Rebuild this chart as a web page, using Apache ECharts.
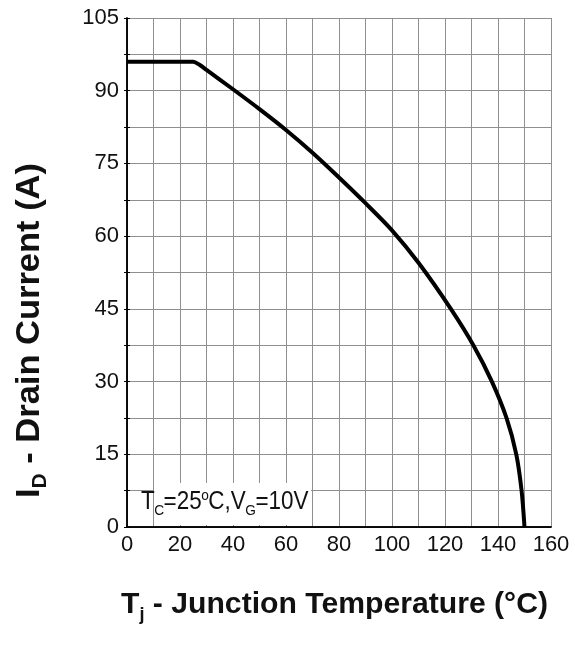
<!DOCTYPE html>
<html>
<head>
<meta charset="utf-8">
<style>
  html, body { margin: 0; padding: 0; background: #fff; }
  #chart { width: 575px; height: 645px; }
</style>
<script src="https://cdn.jsdelivr.net/npm/echarts@6/dist/echarts.min.js"></script>
</head>
<body>
<div id="chart"></div>
<script>
// Junction temperature (°C)
const temps = [0, 25, 27.5, 30, 40, 50, 60, 70, 80, 90, 100, 110, 122.2, 130.7, 137.7, 143.2, 146.9, 148.9, 150];
// Drain current (A)
const current = [96, 96, 95.3, 94.3, 90.3, 86.2, 81.9, 77.2, 72.1, 66.8, 61.2, 54.5, 45, 37.5, 30, 22.5, 15, 7.5, 0];
const xTickLabels = [0, 20, 40, 60, 80, 100, 120, 140, 160];
const yTickLabels = [0, 15, 30, 45, 60, 75, 90, 105];

const fontFam = "'Liberation Sans', Arial, sans-serif";
const textColor = '#111';

// measure text widths to place sub/superscripts
const mctx = document.createElement('canvas').getContext('2d');
function measure(text, size, weight) {
  mctx.font = (weight || 'normal') + ' ' + size + 'px ' + fontFam;
  return mctx.measureText(text).width;
}
// pieces: {text, size, dy (baseline offset, +down)}
function runs(pieces, weight, kern) {
  let x = 0;
  const children = [];
  pieces.forEach(p => {
    children.push({
      type: 'text', z: 12, x: x, y: p.dy - 0.35 * p.size,
      style: {
        text: p.text, fontFamily: fontFam, fontSize: p.size, fontWeight: weight,
        fill: textColor, align: 'left', verticalAlign: 'middle'
      }
    });
    x += measure(p.text, p.size, weight) + (kern || 0);
  });
  return { children, width: x };
}

const annot = runs([
  { text: 'T', size: 23, dy: 0 },
  { text: 'C', size: 14, dy: 5 },
  { text: '=25', size: 23, dy: 0 },
  { text: 'o', size: 14, dy: -9 },
  { text: 'C,V', size: 23, dy: 0 },
  { text: 'G', size: 14, dy: 5 },
  { text: '=10V', size: 23, dy: 0 }
], 'normal', -0.5);
const xTitle = runs([
  { text: 'T', size: 30, dy: 0 },
  { text: 'j', size: 18, dy: 6 },
  { text: ' - Junction Temperature (°C)', size: 30, dy: 0 }
], 'bold');
const yTitle = runs([
  { text: 'I', size: 33, dy: 0 },
  { text: 'D', size: 20, dy: 6 },
  { text: ' - Drain Current (A)', size: 33, dy: 0 }
], 'bold');

const chart = echarts.init(document.getElementById('chart'));
const black = '#000';
const gridColor = '#8f8f8f';

chart.setOption({
  animation: false,
  backgroundColor: '#fff',
  grid: { left: 127, right: 24, top: 18, bottom: 118 },
  xAxis: [{
    type: 'value', min: 0, max: 160, interval: 10,
    axisLine: { show: true, lineStyle: { color: black, width: 1.5 } },
    axisTick: { show: false },
    axisLabel: {
      formatter: v => (xTickLabels.includes(v) ? String(v) : ''),
      fontFamily: fontFam, fontSize: 22, color: textColor, margin: 7
    },
    splitLine: { show: true, lineStyle: { color: gridColor, width: 1 } }
  }, {
    type: 'value', position: 'top', min: 0, max: 160, interval: 10,
    axisLine: { show: true, lineStyle: { color: black, width: 1.5 } },
    axisTick: { show: false }, axisLabel: { show: false }, splitLine: { show: false }
  }],
  yAxis: [{
    type: 'value', min: 0, max: 105, interval: 7.5,
    axisLine: { show: true, lineStyle: { color: black, width: 1.5 } },
    axisTick: { show: true, length: 3, lineStyle: { color: black } },
    axisLabel: {
      formatter: v => (yTickLabels.includes(v) ? String(v) : ''),
      fontFamily: fontFam, fontSize: 22, color: textColor, margin: 8
    },
    splitLine: { show: true, lineStyle: { color: gridColor, width: 1 } }
  }, {
    type: 'value', position: 'right', min: 0, max: 105, interval: 7.5,
    axisLine: { show: true, lineStyle: { color: black, width: 1.5 } },
    axisTick: { show: true, length: 3, lineStyle: { color: black } },
    axisLabel: { show: false }, splitLine: { show: false }
  }],
  series: [{
    type: 'line',
    data: temps.map((t, i) => [t, current[i]]),
    showSymbol: false,
    smooth: 0.3,
    lineStyle: { color: black, width: 4 },
    z: 5
  }],
  graphic: [
    {
      type: 'rect', z: 10,
      shape: { x: 154, y: 483, width: 157, height: 42 },
      style: { fill: '#fff' }
    },
    {
      type: 'group', z: 12, x: 141, y: 511,
      scaleX: 167 / annot.width, scaleY: 1.1,
      children: annot.children
    },
    {
      type: 'group', z: 12, x: 121, y: 615,
      scaleX: 427 / xTitle.width, scaleY: 1,
      children: xTitle.children
    },
    {
      type: 'group', z: 12, x: 41, y: 498, rotation: Math.PI / 2,
      scaleX: 335 / yTitle.width, scaleY: 1,
      children: yTitle.children
    }
  ]
});
</script>
</body>
</html>
